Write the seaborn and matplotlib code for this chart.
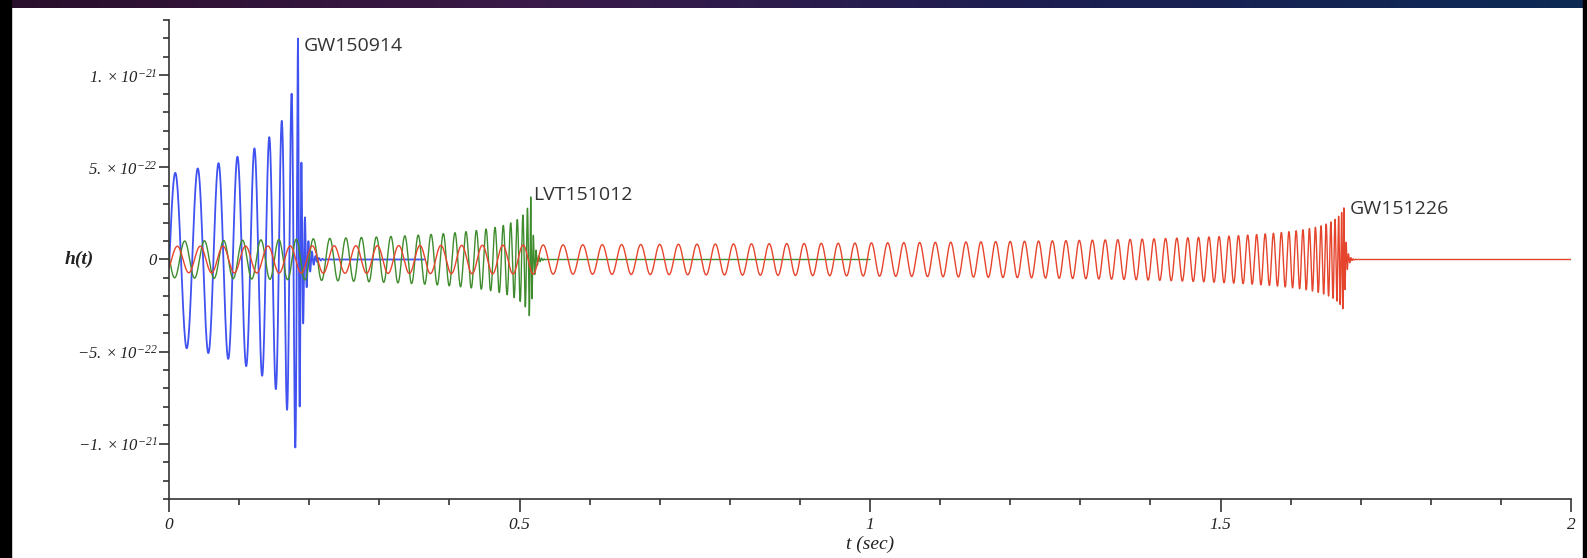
import numpy as np
import pandas as pd
import seaborn as sns
import matplotlib
matplotlib.use("Agg")
from matplotlib import pyplot as plt
from matplotlib.ticker import MultipleLocator
from matplotlib.patches import Rectangle
from matplotlib.colors import LinearSegmentedColormap

# values
events = ["GW150914", "LVT151012", "GW151226"]
colors = ["#4052f0", "#3f8c2e", "#e6452d"]
widths = [1.3, 1.0, 1.0]
t_merge = [0.184, 0.516, 1.676]          # time of the tallest peak (s)
amp_peak = [1.20e-21, 3.4e-22, 2.8e-22]  # height of that peak
t_ref = [0.008, 0.016, 0.017]            # an early peak
amp_ref = [4.7e-22, 1.0e-22, 0.72e-22]   # its height
freq_ref = [30.0, 35.0, 30.5]            # Hz, from the spacing of the early peaks
f_ring = [200.0, 260.0, 300.0]           # ringdown after the peak
tau_ring = [0.006, 0.004, 0.003]
t_end = [0.364, 1.0, 2.0]                # where the flat line stops
label_x = [0.192, 0.520, 1.684]
label_y = [1.16e-21, 3.5e-22, 2.72e-22]

xtick_vals = [0, 0.5, 1, 1.5, 2]
xtick_labels = ["0", "0.5", "1", "1.5", "2"]
ytick_vals = [-1e-21, -5e-22, 0, 5e-22, 1e-21]
ytick_labels = [r"$-1.\:{\times}\:10^{-21}$", r"$-5.\:{\times}\:10^{-22}$", "0",
                r"$5.\:{\times}\:10^{-22}$", r"$1.\:{\times}\:10^{-21}$"]


def waveform(i, t):
    # inspiral: amplitude ~ s^-1/4, frequency ~ s^-3/8 (s = time to the peak)
    s = t_merge[i] - t
    s_ref = t_merge[i] - t_ref[i]
    s0 = 0.002
    r = (amp_ref[i] / amp_peak[i]) ** 4
    x = s_ref * r / (1 - r)
    h = np.zeros_like(t)
    pre = s >= 0
    sp = s[pre]
    amp = amp_ref[i] * ((sp + x) / (s_ref + x)) ** -0.25
    k = 1.6 * freq_ref[i] * (s_ref + s0) ** 0.375
    cycles = k * ((sp + s0) ** 0.625 - s0 ** 0.625)
    h[pre] = amp * np.cos(2 * np.pi * cycles)
    dt = -s[~pre]
    h[~pre] = amp_peak[i] * np.exp(-dt / tau_ring[i]) * np.cos(2 * np.pi * f_ring[i] * dt)
    return h


sns.set_theme(style="ticks")
plt.rcParams["mathtext.fontset"] = "custom"
plt.rcParams["mathtext.rm"] = "Liberation Serif:italic"
plt.rcParams["mathtext.it"] = "Liberation Serif:italic"
plt.rcParams["font.family"] = ["DejaVu Sans"]

fig = plt.figure(figsize=(15.87, 5.58), dpi=100)
fig.patch.set_facecolor("white")
ax = fig.add_axes([169 / 1587, 1 - 499 / 558, 1402 / 1587, 479 / 558])

for i, name in enumerate(events):
    t = np.linspace(0, t_end[i], int(t_end[i] * 40000))
    df = pd.DataFrame({"t": t, "h": waveform(i, t)})
    sns.lineplot(data=df, x="t", y="h", color=colors[i], linewidth=widths[i],
                 estimator=None, sort=False, ax=ax)

ax.set_xlim(0, 2)
ax.set_ylim(-1.3e-21, 1.3e-21)
ax.set_xticks(xtick_vals, xtick_labels)
ax.set_yticks(ytick_vals, ytick_labels)
ax.xaxis.set_minor_locator(MultipleLocator(0.1))
ax.yaxis.set_minor_locator(MultipleLocator(1e-22))
for lab in ax.get_xticklabels():
    lab.set_fontsize(12.5)
for lab in ax.get_yticklabels():
    lab.set_fontsize(12)
for lab in ax.get_xticklabels() + ax.get_yticklabels():
    lab.set_fontfamily("Liberation Serif")
    lab.set_fontstyle("italic")
    lab.set_color("#222222")
ax.tick_params(axis="x", which="major", length=9, width=1.2, pad=4, colors="#333333")
ax.tick_params(axis="x", which="minor", length=4.5, width=1.2, colors="#333333")
ax.tick_params(axis="y", which="major", length=7, width=1.2, pad=1.5, colors="#333333")
ax.tick_params(axis="y", which="minor", length=4, width=1.2, colors="#333333")
ax.tick_params(labelcolor="#222222")
sns.despine(ax=ax)
for side in ["left", "bottom"]:
    ax.spines[side].set_color("#333333")
    ax.spines[side].set_linewidth(1.2)

ax.set_xlabel("t (sec)", fontfamily="Liberation Serif", fontstyle="italic",
              fontsize=14, color="#222222", va="center")
ax.xaxis.set_label_coords(0.5, -0.094)
ax.set_ylabel("h(t)", fontfamily="Liberation Serif", fontstyle="italic",
              fontweight="bold", fontsize=14, color="#222222",
              rotation=0, ha="center", va="center")
ax.yaxis.set_label_coords(-0.064, 0.5)

for i, name in enumerate(events):
    ax.text(label_x[i], label_y[i], name, fontfamily="Open Sans", fontsize=14,
            color="#333333", ha="left", va="center")

# screenshot frame: starry strip on top, dark edges at the sides
band = fig.add_axes([0, 1 - 8 / 558, 1, 8 / 558])
cmap = LinearSegmentedColormap.from_list("sky", ["#2a0f2c", "#3a1a48", "#1c1f52", "#0c2a55"])
band.imshow(np.linspace(0, 1, 256)[None, :], aspect="auto", cmap=cmap)
band.axis("off")
fig.add_artist(Rectangle((0, 0), 11 / 1587, 1, transform=fig.transFigure,
                         color="black", zorder=5))
fig.add_artist(Rectangle((1583 / 1587, 0), 4 / 1587, 1, transform=fig.transFigure,
                         color="black", zorder=5))

fig.savefig("out.png", dpi=100)
